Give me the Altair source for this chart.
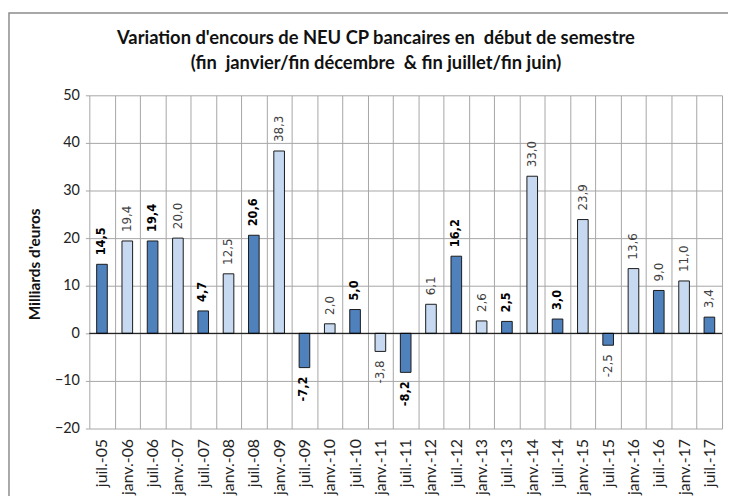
import altair as alt
import pandas as pd

categories = ["juil.-05", "janv.-06", "juil.-06", "janv.-07", "juil.-07", "janv.-08",
              "juil.-08", "janv.-09", "juil.-09", "janv.-10", "juil.-10", "janv.-11",
              "juil.-11", "janv.-12", "juil.-12", "janv.-13", "juil.-13", "janv.-14",
              "juil.-14", "janv.-15", "juil.-15", "janv.-16", "juil.-16", "janv.-17",
              "juil.-17"]
values = [14.5, 19.4, 19.4, 20.0, 4.7, 12.5, 20.6, 38.3, -7.2, 2.0, 5.0, -3.8, -8.2,
          6.1, 16.2, 2.6, 2.5, 33.0, 3.0, 23.9, -2.5, 13.6, 9.0, 11.0, 3.4]
bold_labels = [True, False, True, False, True, False, True, False, True, False, True, False,
               True, False, True, False, True, False, True, False, False, False, False, False,
               False]

df = pd.DataFrame({
    "cat": categories,
    "val": values,
    "label": [f"{v:.1f}".replace(".", ",") for v in values],
    "kind": ["juil" if c.startswith("juil") else "janv" for c in categories],
    "bold": bold_labels,
    "pos": [v >= 0 for v in values],
})

LABEL_FONT = "Lato"
NB = "\u00a0"

x = alt.X("cat:N", sort=categories, title=None,
          scale=alt.Scale(paddingInner=0, paddingOuter=0),
          axis=alt.Axis(labelAngle=-90, labelAlign="right", labelBaseline="middle",
                        labelFont=LABEL_FONT, labelFontSize=16, labelColor="#222222",
                        labelPadding=10, ticks=False, domain=False, grid=True,
                        tickBand="extent", gridColor="#a6a6a6", gridWidth=1))
y = alt.Y("val:Q", title="Milliards d'euros",
          scale=alt.Scale(domain=[-20, 50], nice=False),
          axis=alt.Axis(values=[-20, -10, 0, 10, 20, 30, 40, 50], domain=False,
                        tickColor="#a6a6a6", tickSize=4, gridColor="#a6a6a6",
                        labelFont=LABEL_FONT, labelFontSize=14.5, labelColor="#222222",
                        labelPadding=6,
                        titleFont=LABEL_FONT, titleFontSize=15.5, titleFontWeight="bold",
                        titleColor="#111111", titleX=-55, titleY=170, titleAngle=-90,
                        titleAlign="center", titleBaseline="middle"))

base = alt.Chart(df)

bars = base.mark_bar(width=alt.RelativeBandSize(0.42), stroke="#1a1a1a", strokeWidth=1).encode(
    x=x, y=y,
    color=alt.Color("kind:N", scale=alt.Scale(domain=["juil", "janv"],
                                              range=["#4f81bd", "#c6d9f1"]), legend=None),
)

zero = alt.Chart(pd.DataFrame({"z": [0]})).mark_rule(color="black", strokeWidth=1).encode(
    y=alt.Y("z:Q")
)

# decorative outer frame of the chart (top and left edges visible)
frame = alt.Chart(pd.DataFrame({"f": [0]})).mark_rect(
    filled=False, stroke="#8c8c8c", strokeWidth=1.5
).encode(x=alt.value(-81), x2=alt.value(720), y=alt.value(-83), y2=alt.value(420))

def label_layer(bold, pos):
    return base.transform_filter(
        (alt.datum.bold == bold) & (alt.datum.pos == pos)
    ).mark_text(
        angle=270, align="left" if pos else "right", baseline="middle",
        dx=9 if pos else -9,
        font="DejaVu Sans", fontSize=11.5 if bold else 12,
        fontWeight="bold" if bold else "normal",
        color="#000000" if bold else "#404040",
    ).encode(x=alt.X("cat:N", sort=categories), y="val:Q", text="label:N")

labels = [label_layer(b, p) for b in (True, False) for p in (True, False)]

chart = alt.layer(frame, bars, zero, *labels).properties(
    width=638, height=336,
    autosize=alt.AutoSizeParams(type="none"),
    padding={"left": 82, "top": 86, "right": 6, "bottom": 66},
    title=alt.TitleParams(
        [f"Variation d'encours de NEU CP bancaires en{NB} début de semestre",
         f"(fin{NB} janvier/fin décembre{NB} & fin juillet/fin juin)"],
        font=LABEL_FONT, fontSize=18.5, fontWeight="bold", color="#111111",
        anchor="middle", dx=-30, dy=77, offset=16, lineHeight=25),
).configure_view(stroke=None)

chart.save("out.html", embed_options={"renderer": "svg", "actions": False})
